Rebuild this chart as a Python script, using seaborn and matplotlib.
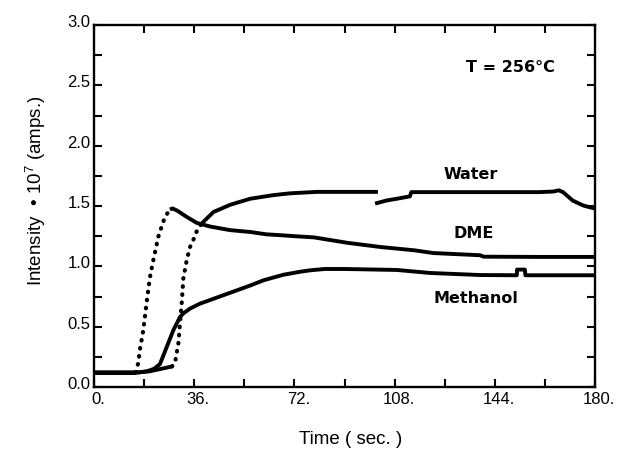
import matplotlib
matplotlib.use("Agg")
import matplotlib.pyplot as plt
from matplotlib.ticker import FixedLocator, MultipleLocator
from matplotlib.transforms import ScaledTranslation
import seaborn as sns

# ---- data -------------------------------------------------------------
# DME: baseline, fast rise (dotted), then slow decay
dme_t = [0, 15, 15.9, 16.5, 17.7, 18.9, 20.1, 21.3, 23.1, 24.3, 25.5, 27.3, 28.2,
         30, 33.3, 36.9, 41.7, 48.9, 56, 62, 67, 72, 79, 91, 103, 115, 122,
         138.7, 140, 160, 180]
dme_v = [0.12, 0.12, 0.20, 0.31, 0.47, 0.70, 0.91, 1.05, 1.245, 1.33, 1.41, 1.47, 1.48,
         1.46, 1.41, 1.36, 1.33, 1.30, 1.285, 1.265, 1.258, 1.25, 1.24, 1.195, 1.16, 1.133, 1.11,
         1.092, 1.08, 1.078, 1.078]
dme_rise = (1, 11)          # index range drawn dotted

# Water: first run, then the trace resumes slightly lower after ~101 s
water_t = [0, 15, 20, 24, 28, 29.1, 30.3, 30.9, 31.5, 32.1, 33.3, 34.5, 35.7, 36.9,
           38.7, 42.9, 48.9, 56.1, 64.4, 70.4, 80, 90, 102]
water_v = [0.12, 0.12, 0.13, 0.15, 0.17, 0.20, 0.36, 0.53, 0.69, 0.90, 1.05, 1.16, 1.22, 1.29,
           1.355, 1.45, 1.51, 1.56, 1.59, 1.605, 1.617, 1.617, 1.617]
water_rise = (4, 14)
water2_t = [101, 105, 110, 113.5, 114, 120, 140, 160, 165, 167, 168.5, 172, 175.7, 178, 180]
water2_v = [1.52, 1.545, 1.565, 1.58, 1.615, 1.615, 1.615, 1.615, 1.62, 1.63, 1.615, 1.545,
            1.505, 1.49, 1.48]

# Methanol
meth_t = [0, 16, 19, 21.5, 23.7, 26.1, 28.5, 30.9, 32.1, 34.5, 38, 44, 50, 56, 61, 68,
          74, 78, 83, 90, 108.8, 120.7, 138.7, 151.9, 152, 154.8, 155, 180]
meth_v = [0.12, 0.12, 0.13, 0.15, 0.19, 0.33, 0.47, 0.58, 0.61, 0.65, 0.69, 0.74, 0.79,
          0.84, 0.885, 0.93, 0.955, 0.968, 0.978, 0.978, 0.97, 0.945, 0.928, 0.926, 0.973,
          0.973, 0.926, 0.926]

x_ticks = [0, 36, 72, 108, 144, 180]
x_ticklabels = ["0.", "36.", "72.", "108.", "144.", "180."]
y_ticks = [0.0, 0.5, 1.0, 1.5, 2.0, 2.5, 3.0]
y_ticklabels = ["0.0", "0.5", "1.0", "1.5", "2.0", "2.5", "3.0"]

labels = {"Water": (135.5, 1.765), "DME": (136.5, 1.268), "Methanol": (137.3, 0.737)}
temp_label = ("T = 256°C", 149.5, 2.65)

# ---- style ------------------------------------------------------------
sns.set_style("ticks")
plt.rcParams["font.family"] = ["Liberation Sans", "DejaVu Sans"]
plt.rcParams["mathtext.fontset"] = "custom"
plt.rcParams["mathtext.rm"] = "Liberation Sans"
plt.rcParams["mathtext.it"] = "Liberation Sans"
for key in ["text.color", "axes.labelcolor", "xtick.color", "ytick.color",
            "axes.edgecolor"]:
    plt.rcParams[key] = "black"

fig = plt.figure(figsize=(6.17, 4.49), dpi=100)
ax = fig.add_axes([94 / 617, 1 - 387 / 449, 501 / 617, 362 / 449])

LW = 2.8
DOT = dict(linestyle=(0, (0.15, 1.8)), dash_capstyle="round", lw=3.0)
SOLID = dict(linestyle="-", lw=LW, solid_capstyle="butt")


def draw(t, v, rise=None):
    """Draw one trace; the fast-rising part is drawn as separated dots."""
    if rise is None:
        sns.lineplot(x=t, y=v, ax=ax, color="black", sort=False, estimator=None, **SOLID)
        return
    a, b = rise
    sns.lineplot(x=t[:a + 1], y=v[:a + 1], ax=ax, color="black", sort=False,
                 estimator=None, **SOLID)
    sns.lineplot(x=t[a:b + 1], y=v[a:b + 1], ax=ax, color="black", sort=False,
                 estimator=None, **DOT)
    sns.lineplot(x=t[b:], y=v[b:], ax=ax, color="black", sort=False,
                 estimator=None, **SOLID)


draw(dme_t, dme_v, dme_rise)
draw(water_t, water_v, water_rise)
draw(water2_t, water2_v)
draw(meth_t, meth_v)

ax.set_xlim(0, 180)
ax.set_ylim(0, 3.0)

ax.xaxis.set_major_locator(FixedLocator(x_ticks))
ax.xaxis.set_minor_locator(MultipleLocator(18))
ax.set_xticks(x_ticks)
ax.set_xticklabels(x_ticklabels)
ax.yaxis.set_minor_locator(MultipleLocator(0.25))
ax.set_yticks(y_ticks)
ax.set_yticklabels(y_ticklabels)

for side in ["top", "right", "bottom", "left"]:
    ax.spines[side].set_visible(True)
    ax.spines[side].set_linewidth(1.7)
    ax.spines[side].set_color("black")

ax.tick_params(which="both", direction="in", top=True, right=True, length=5.5,
               width=1.5, color="black")
ax.tick_params(axis="x", which="major", labelsize=12, pad=3.5, labelcolor="black")
ax.tick_params(axis="y", which="major", labelsize=12, pad=2.5, labelcolor="black")

# digits centred on the tick, trailing period hanging to the right
for lbl in ax.get_xticklabels():
    lbl.set_transform(lbl.get_transform() + ScaledTranslation(4 / 100, 0, fig.dpi_scale_trans))
for lbl in ax.get_yticklabels():
    lbl.set_verticalalignment("baseline")
    lbl.set_transform(lbl.get_transform() + ScaledTranslation(0, -2 / 100, fig.dpi_scale_trans))

ax.set_xlabel("Time ( sec. )", fontsize=13.5, va="center", color="black")
ax.xaxis.set_label_coords(0.512, -0.144)
ax.set_ylabel("Intensity  \u2022 10$^{7}$ (amps.)", fontsize=13.5, va="center",
              color="black")
ax.yaxis.set_label_coords(-0.116, 0.541)

for name, (tx, ty) in labels.items():
    ax.text(tx, ty, name, ha="center", va="center", fontsize=11.5, color="black",
            fontweight="bold", family="DejaVu Sans")
ax.text(temp_label[1], temp_label[2], temp_label[0], ha="center", va="center",
        fontsize=11.5, fontweight="bold", family="DejaVu Sans", color="black")

fig.savefig("out.png", dpi=100, facecolor="white")
